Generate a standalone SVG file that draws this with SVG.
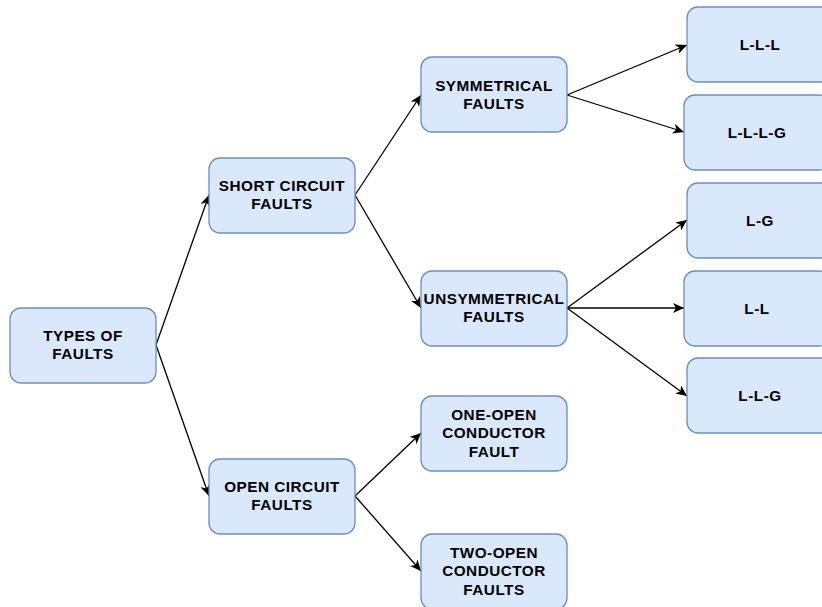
<svg xmlns="http://www.w3.org/2000/svg" width="822" height="607" viewBox="0 0 822 607">
<style>
.n rect{fill:#dae8fc;stroke:#6c8ebf;stroke-width:1.3}
.n text{font-family:"Liberation Sans",Arial,sans-serif;font-weight:bold;font-size:15.3px;letter-spacing:0.5px;fill:#000;text-anchor:middle}
.c path{fill:none;stroke:#000;stroke-width:1.3;marker-end:url(#a)}
</style>
<defs>
<marker id="a" markerUnits="userSpaceOnUse" markerWidth="12" markerHeight="10" refX="11" refY="5" orient="auto">
<path d="M0,0 L11,5 L0,10 L3,5 Z" fill="#000"/>
</marker>
</defs>
<rect width="822" height="607" fill="#fff"/>
<g class="c">
<path d="M156,345 L209,195"/>
<path d="M156,345 L209,496"/>
<path d="M355,195 L421,95"/>
<path d="M355,195 L421,308"/>
<path d="M567,95 L687,45"/>
<path d="M567,95 L684,132"/>
<path d="M567,308 L687,220"/>
<path d="M567,308 L684,308"/>
<path d="M567,308 L687,396"/>
<path d="M355,496 L421,433"/>
<path d="M355,496 L421,571"/>
</g>
<g id="types" class="n"><rect x="10" y="308" width="146" height="75" rx="11"/><text x="83" y="341">TYPES OF</text><text x="83" y="359">FAULTS</text></g>
<g id="short" class="n"><rect x="209" y="158" width="146" height="75" rx="11"/><text x="282" y="191">SHORT CIRCUIT</text><text x="282" y="209">FAULTS</text></g>
<g id="open" class="n"><rect x="209" y="459" width="146" height="75" rx="11"/><text x="282" y="492">OPEN CIRCUIT</text><text x="282" y="510">FAULTS</text></g>
<g id="sym" class="n"><rect x="421" y="57" width="146" height="75" rx="11"/><text x="494" y="90.5">SYMMETRICAL</text><text x="494" y="108.5">FAULTS</text></g>
<g id="unsym" class="n"><rect x="421" y="271" width="146" height="75" rx="11"/><text x="494" y="304">UNSYMMETRICAL</text><text x="494" y="322">FAULTS</text></g>
<g id="oneopen" class="n"><rect x="421" y="396" width="146" height="75" rx="11"/><text x="494" y="420">ONE-OPEN</text><text x="494" y="438.3">CONDUCTOR</text><text x="494" y="456.6">FAULT</text></g>
<g id="twoopen" class="n"><rect x="421" y="534" width="146" height="75" rx="11"/><text x="494" y="558">TWO-OPEN</text><text x="494" y="576.3">CONDUCTOR</text><text x="494" y="594.6">FAULTS</text></g>
<g id="lll" class="n"><rect x="687" y="7" width="146" height="75" rx="11"/><text x="760" y="49.5">L-L-L</text></g>
<g id="lllg" class="n"><rect x="684" y="95" width="146" height="75" rx="11"/><text x="757" y="137.5">L-L-L-G</text></g>
<g id="lg" class="n"><rect x="687" y="183" width="146" height="75" rx="11"/><text x="760" y="225.5">L-G</text></g>
<g id="ll" class="n"><rect x="684" y="271" width="146" height="75" rx="11"/><text x="757" y="313.5">L-L</text></g>
<g id="llg" class="n"><rect x="687" y="358" width="146" height="75" rx="11"/><text x="760" y="400.5">L-L-G</text></g>
</svg>
